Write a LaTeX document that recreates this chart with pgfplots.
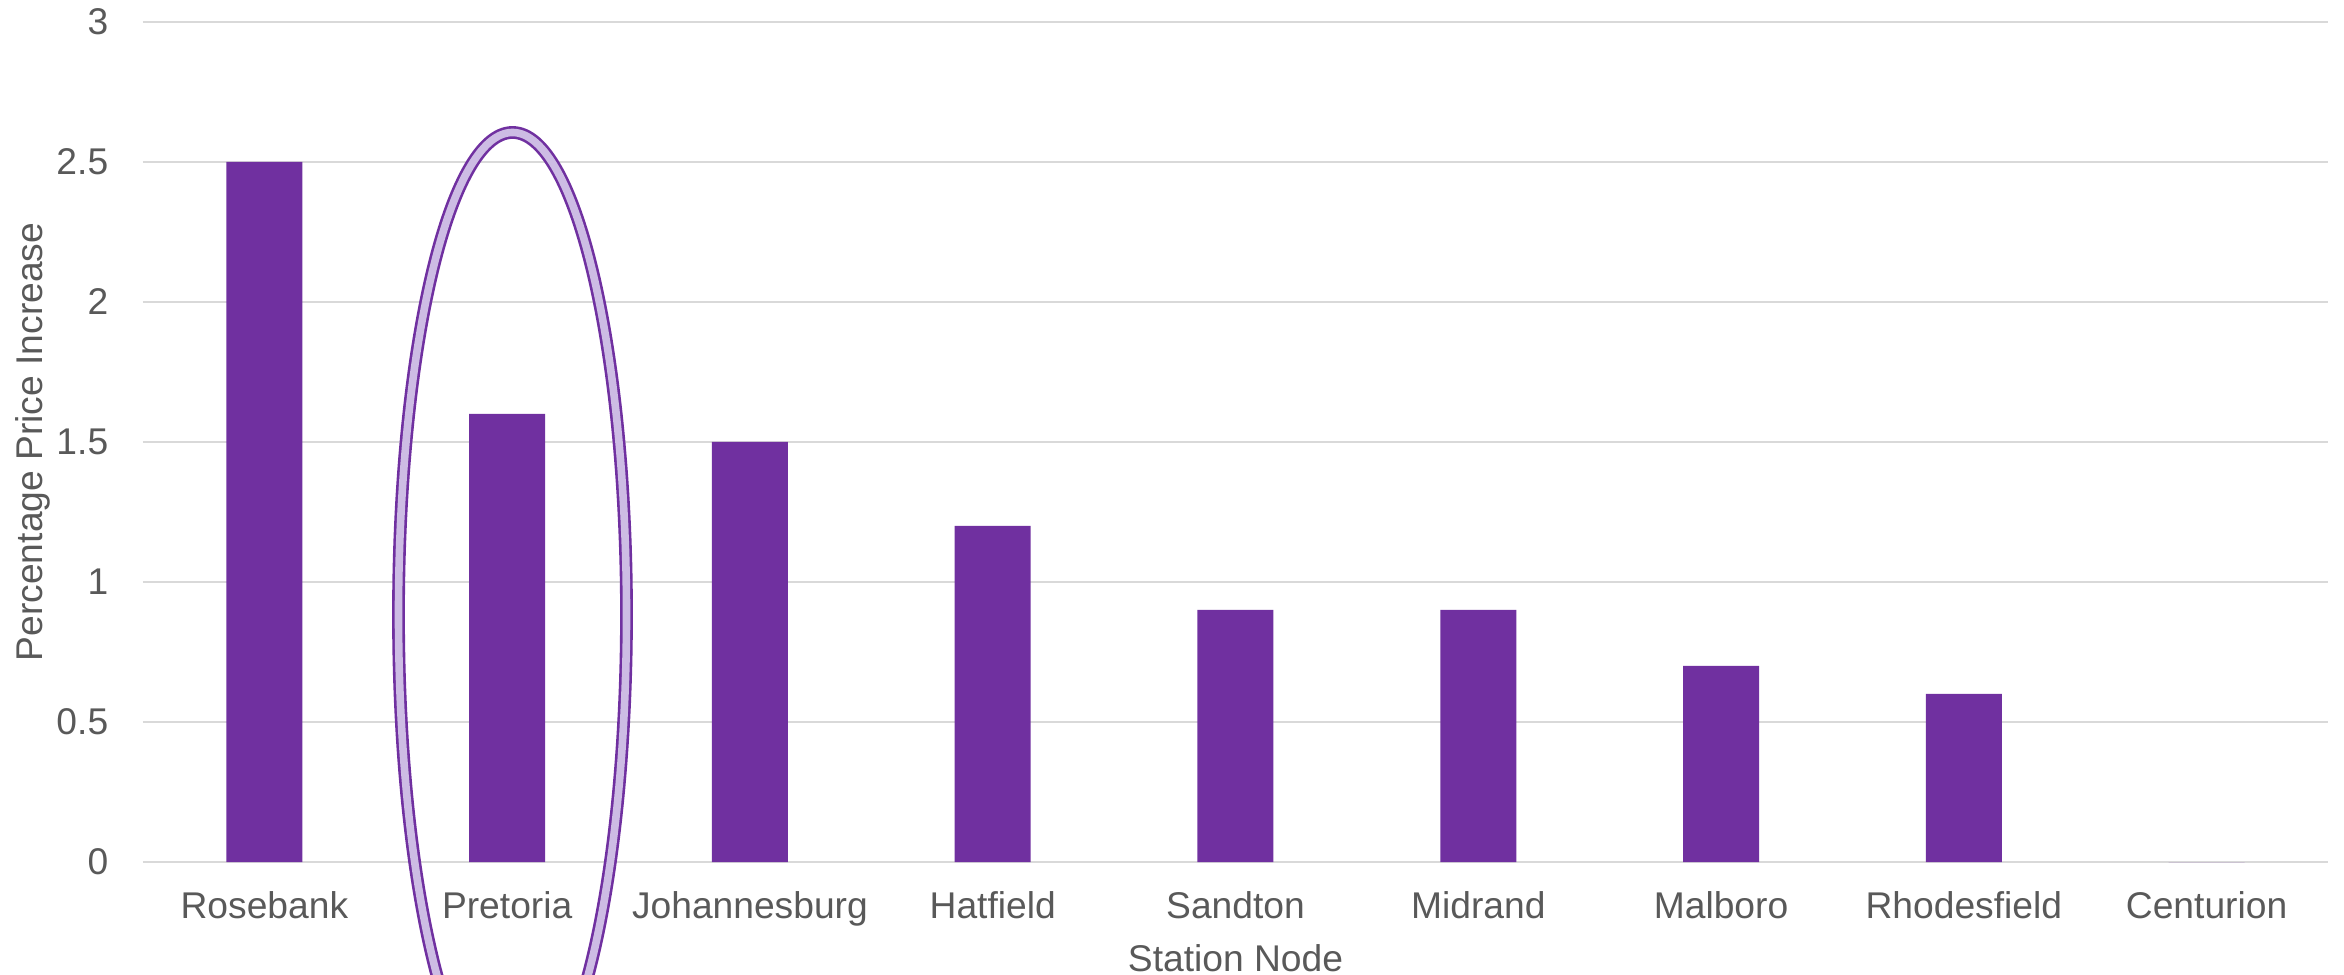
\documentclass[border=0pt]{standalone}
\usepackage{pgfplots}
\pgfplotsset{compat=1.18}
\usepackage{fontspec}
\setmainfont{Liberation Sans}
\definecolor{barpurple}{HTML}{7030A0}
\definecolor{lavender}{RGB}{205,188,228}
\definecolor{txtgray}{HTML}{595959}
\definecolor{gridgray}{HTML}{D9D9D9}
\begin{document}
\begin{tikzpicture}
\path[use as bounding box] (0,0) rectangle (586pt,243.5pt);
\begin{axis}[
  at={(35.75pt,28pt)}, anchor=south west,
  scale only axis,
  width=546.25pt, height=210pt,
  xmin=-0.5, xmax=8.5,
  ymin=0, ymax=3,
  ytick={0,0.5,1,1.5,2,2.5,3},
  xtick=data,
  xticklabels={Rosebank,Pretoria,Johannesburg,Hatfield,Sandton,Midrand,Malboro,Rhodesfield,Centurion},
  axis line style={draw=none},
  major tick length=0pt,
  ymajorgrids,
  grid style={gridgray, line width=0.45pt},
  font=\fontsize{9.3}{11}\selectfont,
  /pgf/number format/assume math mode=true,
  tick label style={text=txtgray, inner sep=0pt},
  yticklabel style={anchor=east, xshift=-8.5pt},
  xticklabel style={anchor=base, yshift=-14pt},
  xlabel={Station Node},
  ylabel={Percentage Price Increase},
  every axis x label/.style={at={(axis description cs:0.5,0)}, anchor=base, yshift=-27.25pt, text=txtgray, inner sep=0pt},
  every axis y label/.style={at={(axis description cs:0,0.5)}, rotate=90, anchor=base, yshift=25pt, text=txtgray, inner sep=0pt},
  clip=false,
]
\addplot[ybar, bar width=19pt, fill=barpurple, draw=none] coordinates {
  (0,2.5) (1,1.6) (2,1.5) (3,1.2) (4,0.9) (5,0.9) (6,0.7) (7,0.6) (8,0)
};
\draw[line width=3.2pt, color=barpurple] (axis cs:1.022,0.884) ellipse [x radius=28.5pt, y radius=120.5pt];
\draw[line width=1.9pt, color=lavender] (axis cs:1.022,0.884) ellipse [x radius=28.5pt, y radius=120.5pt];
\end{axis}
\end{tikzpicture}
\end{document}
